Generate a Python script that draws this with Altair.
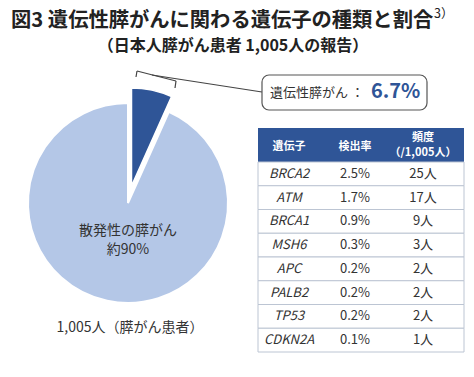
import altair as alt
import pandas as pd

# ---- data ----
pie_cats = ["遺伝性膵がん", "散発性の膵がん"]
pie_vals = [6.7, 93.3]
pie_order = [0, 1]

genes = ["BRCA2", "ATM", "BRCA1", "MSH6", "APC", "PALB2", "TP53", "CDKN2A"]
rates = ["2.5%", "1.7%", "0.9%", "0.3%", "0.2%", "0.2%", "0.2%", "0.1%"]
counts = ["25人", "17人", "9人", "3人", "2人", "2人", "2人", "1人"]

title_main = "図3 遺伝性膵がんに関わる遺伝子の種類と割合"
title_sup = "3）"
subtitle = "（日本人膵がん患者 1,005人の報告）"
pie_label = "散発性の膵がん\n約90%"
pie_caption = "1,005人（膵がん患者）"
callout_label = "遺伝性膵がん ："
callout_value = "6.7%"
head_gene = "遺伝子"
head_rate = "検出率"
head_freq = "頻度\n（/1,005人）"

FONT = "Noto Sans CJK JP"
DARK = "#2f5597"
LIGHT = "#b4c7e7"
TXT = "#333333"

pie_df = pd.DataFrame({"cat": pie_cats, "value": pie_vals, "order": pie_order})
tab_df = pd.DataFrame({"gene": genes, "rate": rates, "count": counts})
one = pd.DataFrame({"k": [0]})

# ---- pie ----
pie_base = (
    alt.Chart(pie_df)
    .transform_window(end="sum(value)", sort=[alt.SortField("order")])
    .transform_calculate(start="datum.end - datum.value")
)
theta = alt.Theta("start:Q", scale=alt.Scale(domain=[0, 100]))
light = (
    pie_base.transform_filter(alt.datum.cat == pie_cats[1])
    .mark_arc(radius=100, fill=LIGHT, stroke="white", strokeWidth=2)
    .encode(theta=theta, theta2="end:Q", x=alt.value(128), y=alt.value(203))
)
dark = (
    pie_base.transform_filter(alt.datum.cat == pie_cats[0])
    .mark_arc(radius=98, fill=DARK, stroke="white", strokeWidth=1.5,
              xOffset=3.5, yOffset=-17)
    .encode(theta=theta, theta2="end:Q", x=alt.value(128), y=alt.value(203))
)

def txt(s, x, y, size, **kw):
    return alt.Chart(one).mark_text(
        text=s, font=FONT, fontSize=size, **kw
    ).encode(x=alt.value(x), y=alt.value(y))

pie_lbl = txt(pie_label, 128, 231, 14, color=TXT, lineBreak="\n", lineHeight=19)
pie_cap = txt(pie_caption, 130, 328, 14, color=TXT)

# ---- titles ----
t1 = txt(title_main, 11, 21, 20.3, fontWeight="bold", align="left", color="#222222")
t1s = txt(title_sup, 434, 14, 12.5, align="left", color="#222222")
t2 = txt(subtitle, 233, 46, 16, fontWeight="bold", color="#222222")

# ---- bracket & connector ----
def seg(x1, y1, x2, y2):
    return alt.Chart(one).mark_rule(color="#444444", strokeWidth=1.2).encode(
        x=alt.value(x1), y=alt.value(y1), x2=alt.value(x2), y2=alt.value(y2)
    )

br = [seg(137, 71, 136, 77), seg(137, 71, 176, 81), seg(176, 81, 175, 88),
      seg(152, 75, 262, 92)]

# ---- callout ----
box = alt.Chart(one).mark_rect(
    fill="white", stroke="#555555", strokeWidth=1.2, cornerRadius=7
).encode(x=alt.value(262), x2=alt.value(427), y=alt.value(75), y2=alt.value(110))
c1 = txt(callout_label, 270, 93, 13, align="left", color=TXT)
c2 = txt(callout_value, 371, 92, 20, align="left", fontWeight="bold", color=DARK)

# ---- table ----
X0, X1 = 258, 464
yrow = alt.Y("gene:N", sort=genes, axis=None,
             scale=alt.Scale(range=[162, 352], paddingInner=0, paddingOuter=0))
head = alt.Chart(one).mark_rect(fill=DARK).encode(
    x=alt.value(X0), x2=alt.value(X1), y=alt.value(128), y2=alt.value(162))
h1 = txt(head_gene, 289, 147, 11, color="white", fontWeight="bold")
h2 = txt(head_rate, 355, 147, 11, color="white", fontWeight="bold")
h3 = txt(head_freq, 423, 138, 11, color="white", fontWeight="bold",
         lineBreak="\n", lineHeight=15)

rows = alt.Chart(tab_df).mark_rect(
    fill="white", stroke="#bcc5d3", strokeWidth=1
).encode(x=alt.value(X0), x2=alt.value(X1), y=yrow)
g_txt = alt.Chart(tab_df).mark_text(
    font=FONT, fontSize=13, fontStyle="italic", color=TXT
).encode(x=alt.value(289), y=yrow, text="gene:N")
r_txt = alt.Chart(tab_df).mark_text(font=FONT, fontSize=13, color=TXT).encode(
    x=alt.value(355), y=yrow, text="rate:N")
n_txt = alt.Chart(tab_df).mark_text(font=FONT, fontSize=13, color=TXT).encode(
    x=alt.value(423), y=yrow, text="count:N")

chart = alt.layer(
    light, dark, pie_lbl, pie_cap, t1, t1s, t2, *br, box, c1, c2,
    head, h1, h2, h3, rows, g_txt, r_txt, n_txt
).properties(
    width=474, height=377, padding=0, autosize="none", background="white"
).configure_view(stroke=None)

chart.save("out.html", embed_options={"renderer": "svg", "actions": False})
